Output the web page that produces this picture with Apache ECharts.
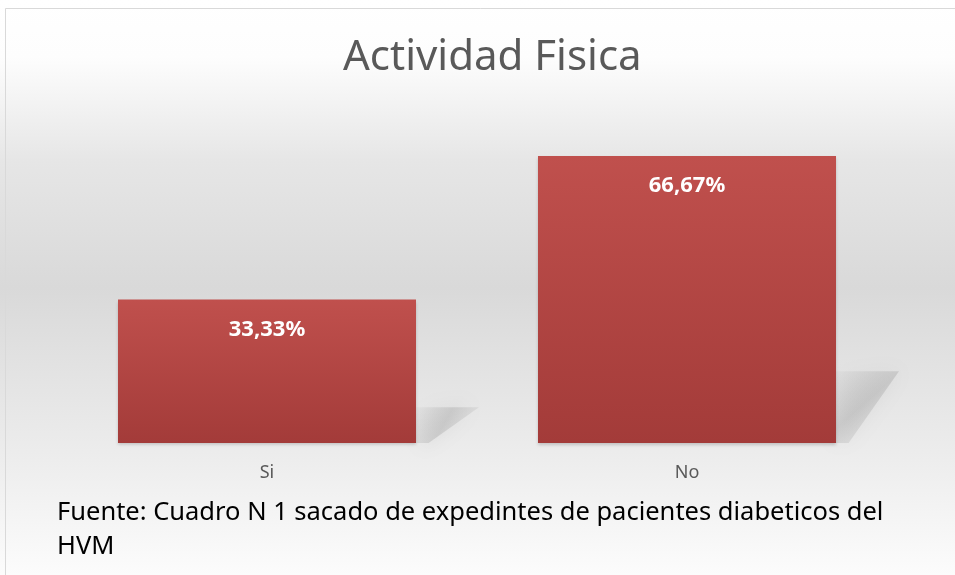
<!DOCTYPE html>
<html>
<head>
<meta charset="utf-8">
<script src="https://cdn.jsdelivr.net/npm/echarts@6/dist/echarts.min.js"></script>
<style>
  html, body { margin: 0; padding: 0; background: #fff; }
  #chart { width: 955px; height: 575px; }
</style>
</head>
<body>
<div id="chart"></div>
<script>
const categories = ['Si', 'No'];
const values = [33.33, 66.67];
const valueLabels = ['33,33%', '66,67%'];
const titleText = 'Actividad Fisica';
const sourceText = 'Fuente: Cuadro N 1 sacado de expedintes de pacientes diabeticos del\nHVM';

const FONT = '"Noto Sans", "Open Sans", sans-serif';

const chart = echarts.init(document.getElementById('chart'));

// perspective shadow behind the bars, built from the bar's own coords
function renderShadow(params, api) {
  const base = api.coord([api.value(0), 0]);
  const top = api.coord([api.value(0), api.value(1)]);
  const band = api.size([1, 0])[0];
  const barW = 298;
  const xR = base[0] + barW / 2;
  const h = base[1] - top[1];
  const sh = h * 0.25;
  const dx = band * 0.15;
  return {
    type: 'polygon',
    shape: {
      points: [
        [xR, base[1]],
        [xR, base[1] - sh],
        [xR + dx, base[1] - sh],
        [xR + dx * 0.2, base[1]]
      ]
    },
    style: {
      fill: new echarts.graphic.LinearGradient(0, 0, 1, 1, [
        { offset: 0, color: 'rgba(130,130,130,0.05)' },
        { offset: 0.45, color: 'rgba(130,130,130,0.25)' },
        { offset: 1, color: 'rgba(130,130,130,0.02)' }
      ]),
      shadowBlur: 22,
      shadowColor: 'rgba(130,130,130,0.5)'
    },
    z2: 0
  };
}

const option = {
  backgroundColor: new echarts.graphic.LinearGradient(0, 0, 0, 1, [
    { offset: 0, color: '#ffffff' },
    { offset: 0.1, color: '#fdfdfd' },
    { offset: 0.28, color: '#e6e6e6' },
    { offset: 0.5, color: '#d9d9d9' },
    { offset: 0.8, color: '#ededed' },
    { offset: 1, color: '#fcfcfc' }
  ]),
  animation: false,
  title: {
    text: titleText,
    left: 338,
    top: 32,
    textStyle: {
      fontFamily: FONT,
      fontSize: 42,
      fontWeight: 'normal',
      color: '#595959'
    }
  },
  graphic: [
    {
      type: 'rect',
      left: 3,
      top: 6,
      shape: { width: 960, height: 580 },
      style: { fill: 'none', stroke: '#d9d9d9', lineWidth: 1 },
      silent: true
    },
    {
      type: 'text',
      left: 57,
      top: 496,
      style: {
        text: sourceText,
        fontFamily: FONT,
        fontSize: 25.5,
        lineHeight: 34,
        fill: '#000'
      }
    }
  ],
  grid: {
    left: 57,
    right: 58,
    top: 156,
    bottom: 132
  },
  xAxis: {
    type: 'category',
    data: categories,
    axisLine: { show: false },
    axisTick: { show: false },
    axisLabel: {
      color: '#595959',
      fontFamily: FONT,
      fontSize: 18,
      margin: 21
    }
  },
  yAxis: {
    type: 'value',
    min: 0,
    max: 66.67,
    show: false,
    splitLine: { show: false }
  },
  series: [
    {
      type: 'custom',
      renderItem: renderShadow,
      data: categories.map((c, i) => [i, values[i]]),
      silent: true,
      z: 1
    },
    {
      type: 'bar',
      data: values,
      barWidth: 298,
      z: 2,
      itemStyle: {
        color: new echarts.graphic.LinearGradient(0, 0, 0, 1, [
          { offset: 0, color: '#c0504d' },
          { offset: 1, color: '#a33b39' }
        ]),
        shadowColor: 'rgba(0,0,0,0.18)',
        shadowBlur: 3,
        shadowOffsetY: 2
      },
      label: {
        show: true,
        position: 'insideTop',
        distance: 19,
        formatter: (p) => valueLabels[p.dataIndex],
        color: '#fff',
        fontFamily: FONT,
        fontWeight: 'bold',
        fontSize: 22
      }
    }
  ]
};

chart.setOption(option);
</script>
</body>
</html>
